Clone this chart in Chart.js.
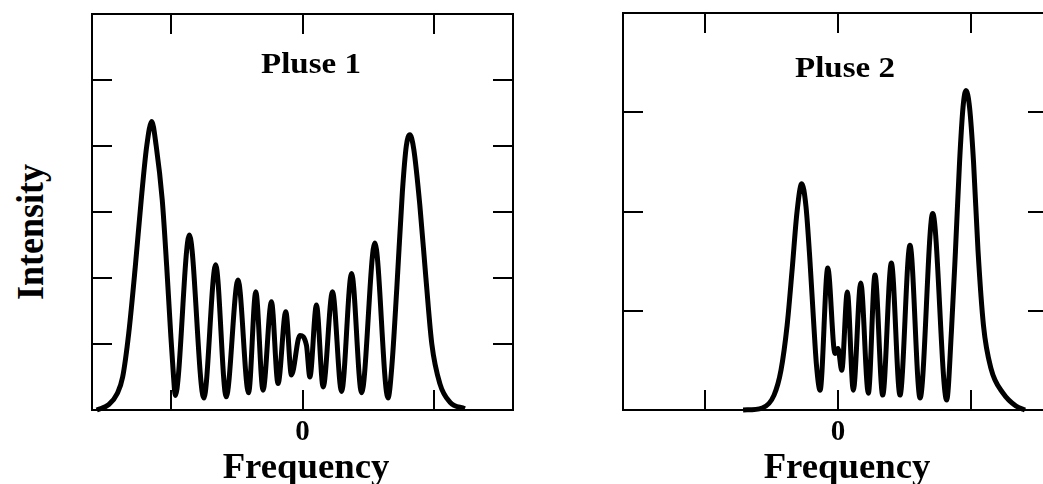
<!DOCTYPE html>
<html>
<head>
<meta charset="utf-8">
<script src="https://cdn.jsdelivr.net/npm/chart.js@4.4.1/dist/chart.umd.min.js"></script>
<style>
  html, body { margin: 0; padding: 0; background: #fff; overflow: hidden; }
  body { width: 1043px; height: 484px; position: relative; font-family: "Liberation Serif", "Times New Roman", serif; font-weight: bold; color: #000; }
  canvas { position: absolute; top: 0; }
  .lbl { position: absolute; white-space: nowrap; transform: translate(-50%, -50%) scaleX(1.1); line-height: 1; }
</style>
</head>
<body>
<canvas id="pulse1" width="450" height="484" style="left:80px"></canvas>
<canvas id="pulse2" width="450" height="484" style="left:610px"></canvas>

<div class="lbl" style="left:311px; top:63px; font-size:30px">Pluse 1</div>
<div class="lbl" style="left:845px; top:67px; font-size:30px">Pluse 2</div>
<div class="lbl" style="left:306px; top:466px; font-size:35px; transform: translate(-50%, -50%) scaleX(1.05)">Frequency</div>
<div class="lbl" style="left:847px; top:466px; font-size:35px; transform: translate(-50%, -50%) scaleX(1.05)">Frequency</div>
<div class="lbl" style="left:30px; top:232px; font-size:36px; transform: translate(-50%, -50%) rotate(-90deg) scaleY(1.08)">Intensity</div>

<script>
// Pluse 1 (frequency and intensity in tick units)
const p1Freq = [-1.564, -1.473, -1.408, -1.367, -1.321, -1.271, -1.226, -1.184, -1.146, -1.112, -1.066, -1.032, -1.002, -0.980, -0.967,
  -0.86, -0.75, -0.66, -0.58, -0.49, -0.41, -0.355, -0.30, -0.236, -0.186, -0.127, -0.084, -0.02, 0.03, 0.056, 0.106, 0.157, 0.228, 0.297, 0.373, 0.449, 0.55, 0.65,
  0.679, 0.717, 0.759, 0.789, 0.816, 0.846, 0.892, 0.938, 0.983, 1.044, 1.120, 1.234];
const p1Int = [0, 0.08, 0.25, 0.5, 1.16, 2.17, 3.18, 4.0, 4.37, 4.0, 3.18, 2.17, 1.16, 0.5, 0.22,
  2.65, 0.18, 2.2, 0.2, 1.97, 0.26, 1.79, 0.3, 1.64, 0.4, 1.49, 0.53, 1.13, 0.98, 0.5, 1.59, 0.35, 1.79, 0.28, 2.07, 0.26, 2.53, 0.18,
  0.66, 1.85, 3.3, 4.0, 4.17, 3.95, 3.1, 2.0, 1.0, 0.4, 0.12, 0.02];

// Pluse 2
const p2Freq = [-0.714, -0.571, -0.481, -0.429, -0.383, -0.346, -0.308, -0.273, -0.241, -0.211, -0.184, -0.162, -0.135,
  -0.077, -0.023, 0.0, 0.028, 0.070, 0.115, 0.171, 0.228, 0.278, 0.336, 0.401, 0.466, 0.541, 0.617, 0.712,
  0.817, 0.853, 0.883, 0.914, 0.940, 0.962, 0.989, 1.019, 1.053, 1.094, 1.150, 1.241, 1.338, 1.406];
const p2Int = [0, 0.02, 0.15, 0.4, 0.85, 1.4, 2.0, 2.28, 2.05, 1.5, 0.9, 0.45, 0.2,
  1.43, 0.57, 0.62, 0.4, 1.19, 0.2, 1.28, 0.17, 1.36, 0.15, 1.48, 0.15, 1.66, 0.12, 1.98,
  0.1, 0.8, 1.6, 2.5, 3.05, 3.22, 3.05, 2.5, 1.6, 0.85, 0.42, 0.17, 0.04, 0];

const xTicks = [-1, 0, 1];
const xTickLabels = ['', '0', ''];
const p1YTicks = [1, 2, 3, 4, 5];
const p2YTicks = [1, 2, 3];

// frame with inward ticks on all four sides
const framePlugin = {
  id: 'frame',
  afterDraw(chart, args, opts) {
    const { ctx, chartArea: a } = chart;
    const x = chart.scales.x, y = chart.scales.y;
    const len = 20;
    ctx.save();
    ctx.strokeStyle = '#000';
    ctx.lineWidth = 2;
    ctx.strokeRect(a.left, a.top, a.right - a.left, a.bottom - a.top);
    ctx.beginPath();
    opts.xTicks.forEach(v => {
      const px = Math.round(x.getPixelForValue(v));
      ctx.moveTo(px, a.bottom); ctx.lineTo(px, a.bottom - len);
      ctx.moveTo(px, a.top); ctx.lineTo(px, a.top + len);
    });
    opts.yTicks.forEach(v => {
      const py = Math.round(y.getPixelForValue(v));
      ctx.moveTo(a.left, py); ctx.lineTo(a.left + len, py);
      ctx.moveTo(a.right, py); ctx.lineTo(a.right - len, py);
    });
    ctx.stroke();
    ctx.fillStyle = '#000';
    ctx.font = 'bold 29px "Liberation Serif", serif';
    ctx.textAlign = 'center';
    ctx.textBaseline = 'middle';
    opts.xTicks.forEach((v, i) => {
      if (opts.labels[i]) ctx.fillText(opts.labels[i], x.getPixelForValue(v), a.bottom + 23);
    });
    ctx.restore();
  }
};

function makeChart(id, freq, inten, xMin, xMax, yMax, yTicks, pad) {
  return new Chart(document.getElementById(id), {
    type: 'line',
    data: {
      datasets: [{
        data: freq.map((f, i) => ({ x: f, y: inten[i] })),
        borderColor: '#000',
        borderWidth: 5,
        pointRadius: 0,
        tension: 0.4,
        cubicInterpolationMode: 'monotone',
        fill: false,
        clip: 6
      }]
    },
    options: {
      responsive: false,
      animation: false,
      layout: { padding: pad },
      plugins: {
        legend: { display: false },
        tooltip: { enabled: false },
        frame: { xTicks: xTicks, labels: xTickLabels, yTicks: yTicks }
      },
      scales: {
        x: { type: 'linear', min: xMin, max: xMax, display: false },
        y: { min: 0, max: yMax, display: false }
      }
    },
    plugins: [framePlugin]
  });
}

makeChart('pulse1', p1Freq, p1Int, -1.6, 1.6, 6, p1YTicks, { left: 12, top: 14, right: 17, bottom: 74 });
makeChart('pulse2', p2Freq, p2Int, -1.617, 1.579, 4, p2YTicks, { left: 13, top: 13, right: 12, bottom: 74 });
</script>
</body>
</html>
